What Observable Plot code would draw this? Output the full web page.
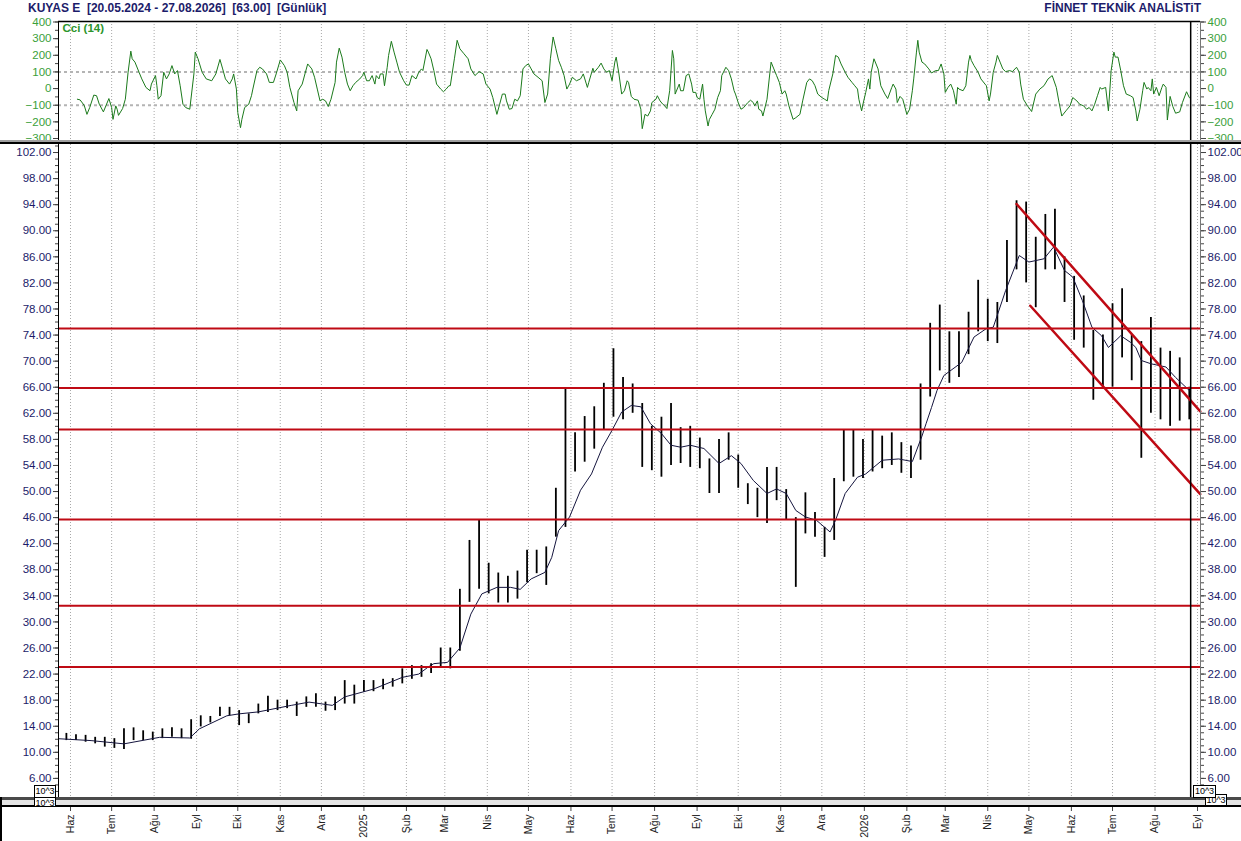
<!DOCTYPE html>
<html><head><meta charset="utf-8">
<script src="https://cdn.jsdelivr.net/npm/d3@7"></script>
<script src="https://cdn.jsdelivr.net/npm/@observablehq/plot@0.6"></script>
<style>
body{margin:0;background:#fff;font-family:"Liberation Sans",Arial,sans-serif;}
#root{position:relative;width:1241px;height:841px;overflow:hidden;background:#fff;}
.abs{position:absolute;}
.box{position:absolute;border:1px solid #000;background:#fff;font-size:9px;line-height:10px;text-align:center;color:#000;overflow:hidden;}
</style></head><body><div id="root"></div>
<script>
// ---------- DATA ----------
const titleLeft = "KUYAS E  [20.05.2024 - 27.08.2026]  [63.00]  [Günlük]";
const titleRight = "FİNNET TEKNİK ANALİSTiT";
const cciLabel = "Cci (14)";
const trMonths = ["Oca","Şub","Mar","Nis","May","Haz","Tem","Ağu","Eyl","Eki","Kas","Ara"];
const lastDay = "2026-08-27";

// weekly price ranges (week starting Monday)
const weeks = ["2024-05-20","2024-05-27","2024-06-03","2024-06-10","2024-06-17","2024-06-24","2024-07-01","2024-07-08","2024-07-15","2024-07-22","2024-07-29","2024-08-05","2024-08-12","2024-08-19","2024-08-26","2024-09-02","2024-09-09","2024-09-16","2024-09-23","2024-09-30","2024-10-07","2024-10-14","2024-10-21","2024-10-28","2024-11-04","2024-11-11","2024-11-18","2024-11-25","2024-12-02","2024-12-09","2024-12-16","2024-12-23","2024-12-30",
"2025-01-06","2025-01-13","2025-01-20","2025-01-27","2025-02-03","2025-02-10","2025-02-17","2025-02-24","2025-03-03","2025-03-10","2025-03-17","2025-03-24","2025-03-31","2025-04-07","2025-04-14","2025-04-21","2025-04-28","2025-05-05","2025-05-12","2025-05-19","2025-05-26","2025-06-02","2025-06-09","2025-06-16","2025-06-23","2025-06-30","2025-07-07","2025-07-14","2025-07-21","2025-07-28","2025-08-04","2025-08-11","2025-08-18","2025-08-25","2025-09-01","2025-09-08","2025-09-15","2025-09-22","2025-09-29","2025-10-06","2025-10-13","2025-10-20","2025-10-27","2025-11-03","2025-11-10","2025-11-17","2025-11-24","2025-12-01","2025-12-08","2025-12-15","2025-12-22","2025-12-29",
"2026-01-05","2026-01-12","2026-01-19","2026-01-26","2026-02-02","2026-02-09","2026-02-16","2026-02-23","2026-03-02","2026-03-09","2026-03-16","2026-03-23","2026-03-30","2026-04-06","2026-04-13","2026-04-20","2026-04-27","2026-05-04","2026-05-11","2026-05-18","2026-05-25","2026-06-01","2026-06-08","2026-06-15","2026-06-22","2026-06-29","2026-07-06","2026-07-13","2026-07-20","2026-07-27","2026-08-03","2026-08-10","2026-08-17","2026-08-24"];
const weekHigh = [12.8,12.9,12.7,12.6,12.3,12.3,12.1,13.6,13.75,13.3,13.1,13.6,13.75,13.6,15.0,15.6,15.5,16.9,16.9,16.4,15.9,17.4,18.6,18.0,18.0,17.7,18.5,19.0,17.7,18.5,21.0,20.3,21.0,
21.0,21.2,21.3,22.8,23.3,23.3,23.6,26.0,26.0,35.0,42.5,45.6,39.0,37.5,37.0,37.8,41.0,41.0,41.5,50.5,65.8,59.0,61.5,63.0,66.6,71.9,67.5,66.5,63.5,60.0,61.4,63.5,59.8,60.0,58.2,55.0,58.0,59.0,55.6,51.2,50.5,53.7,53.7,50.3,46.0,49.8,46.8,44.5,52.0,59.5,59.4,58.0,
59.4,58.5,59.0,57.5,57.0,66.5,75.8,78.6,74.5,74.5,77.5,82.4,79.5,79.0,88.5,94.6,94.4,89.0,92.5,93.3,86.0,83.0,80.0,74.7,74.0,78.8,81.1,74.0,73.0,76.7,72.0,71.5,70.5,66.0];
const weekLow = [11.9,11.8,11.8,11.55,11.3,10.8,10.6,10.45,11.8,11.8,11.8,12.1,12.3,12.1,12.0,13.9,14.5,15.5,15.6,14.1,14.4,15.9,16.1,16.4,16.7,15.5,16.9,16.9,16.3,16.4,17.4,17.4,19.2,
19.3,19.6,20.0,20.5,21.2,21.5,22.1,23.1,22.8,25.5,33.0,35.0,34.3,32.9,32.9,33.5,36.0,37.4,35.6,43.0,44.5,53.0,54.5,56.5,59.5,61.4,61.0,62.0,53.7,53.2,52.2,54.0,54.3,53.7,53.5,49.7,49.7,54.8,50.5,48.0,46.0,45.1,48.6,45.6,35.3,43.5,43.0,39.9,42.5,51.5,52.2,52.0,
53.0,53.5,54.0,52.8,52.0,54.8,64.5,68.5,66.6,67.5,71.0,74.5,73.0,72.7,79.0,84.0,82.0,78.2,84.0,84.0,79.0,73.2,72.0,64.0,66.0,66.0,70.5,67.0,55.1,62.0,61.0,60.0,60.8,61.0];

// moving average line
const maSeries = [["2024-05-22",12.1],["2024-06-16",11.8],["2024-07-10",11.3],["2024-08-05",12.3],["2024-08-27",12.2],["2024-09-03",13.6],["2024-09-23",15.6],["2024-10-02",15.9],["2024-10-16",16.2],["2024-11-09",17.2],["2024-11-22",17.7],["2024-12-09",17.2],["2024-12-18",18.5],["2025-01-08",19.7],["2025-01-29",21.5],["2025-02-10",22.0],["2025-02-17",23.1],["2025-02-21",23.6],["2025-03-03",23.8],["2025-03-12",26.0],["2025-03-20",31.2],["2025-03-28",34.3],["2025-04-08",35.3],["2025-04-18",35.3],["2025-04-25",35.0],["2025-05-03",36.6],["2025-05-13",37.6],["2025-05-18",39.9],["2025-05-23",44.0],["2025-05-31",46.1],["2025-06-08",50.2],["2025-06-16",52.7],["2025-06-24",56.8],["2025-07-01",59.4],["2025-07-08",62.2],["2025-07-15",63.2],["2025-07-22",63.0],["2025-07-29",60.4],["2025-08-06",58.9],["2025-08-13",57.1],["2025-08-20",56.8],["2025-08-27",57.1],["2025-09-06",56.6],["2025-09-17",54.3],["2025-09-26",55.5],["2025-10-03",54.3],["2025-10-12",51.7],["2025-10-22",49.7],["2025-10-29",50.4],["2025-11-05",49.7],["2025-11-12",47.1],["2025-11-19",46.1],["2025-11-27",45.6],["2025-12-07",43.8],["2025-12-11",45.6],["2025-12-18",49.7],["2025-12-27",52.2],["2026-01-02",52.7],["2026-01-14",54.8],["2026-01-26",55.0],["2026-02-05",54.6],["2026-02-12",58.5],["2026-02-15",60.4],["2026-02-19",62.9],["2026-02-23",65.5],["2026-02-28",67.8],["2026-03-13",69.8],["2026-03-22",73.7],["2026-03-31",75.0],["2026-04-05",75.2],["2026-04-14",80.8],["2026-04-24",86.2],["2026-05-01",85.2],["2026-05-12",85.7],["2026-05-19",87.5],["2026-05-27",83.9],["2026-06-02",82.9],["2026-06-09",79.3],["2026-06-16",75.2],["2026-06-23",73.9],["2026-06-28",72.1],["2026-07-07",73.9],["2026-07-14",72.9],["2026-07-18",72.1],["2026-07-22",70.1],["2026-07-29",69.6],["2026-08-09",69.1],["2026-08-16",67.5],["2026-08-26",65.5]];

// CCI(14)
const cciSeries = [["2024-06-06",-64],["2024-06-08",-68],["2024-06-11",-101],["2024-06-13",-155],["2024-06-15",-114],["2024-06-18",-39],["2024-06-20",-43],["2024-06-22",-94],["2024-06-25",-140],["2024-06-29",-60],["2024-07-01",-114],["2024-07-02",-185],["2024-07-04",-104],["2024-07-05",-124],["2024-07-06",-161],["2024-07-09",-120],["2024-07-11",-64],["2024-07-13",98],["2024-07-15",225],["2024-07-16",179],["2024-07-18",159],["2024-07-21",98],["2024-07-23",58],["2024-07-26",7],["2024-07-29",-13],["2024-07-30",27],["2024-08-02",78],["2024-08-03",17],["2024-08-04",-64],["2024-08-06",-43],["2024-08-08",98],["2024-08-10",58],["2024-08-12",88],["2024-08-14",138],["2024-08-16",88],["2024-08-18",108],["2024-08-20",17],["2024-08-22",-94],["2024-08-24",-114],["2024-08-27",-124],["2024-08-30",88],["2024-08-31",219],["2024-09-02",179],["2024-09-05",98],["2024-09-08",58],["2024-09-12",47],["2024-09-15",88],["2024-09-18",175],["2024-09-20",118],["2024-09-22",58],["2024-09-25",27],["2024-09-27",58],["2024-09-28",88],["2024-09-30",-3],["2024-10-01",-144],["2024-10-03",-235],["2024-10-04",-185],["2024-10-06",-114],["2024-10-09",-94],["2024-10-11",-43],["2024-10-12",-3],["2024-10-15",108],["2024-10-17",128],["2024-10-19",118],["2024-10-22",88],["2024-10-24",37],["2024-10-27",37],["2024-10-29",88],["2024-11-01",172],["2024-11-04",138],["2024-11-06",98],["2024-11-08",7],["2024-11-11",-84],["2024-11-13",-134],["2024-11-14",-13],["2024-11-17",27],["2024-11-19",88],["2024-11-21",148],["2024-11-24",118],["2024-11-26",68],["2024-11-28",-3],["2024-11-30",-74],["2024-12-02",-64],["2024-12-04",-74],["2024-12-06",-108],["2024-12-08",-64],["2024-12-11",37],["2024-12-12",159],["2024-12-14",243],["2024-12-16",189],["2024-12-18",98],["2024-12-20",27],["2024-12-22",-13],["2024-12-24",17],["2024-12-26",37],["2024-12-29",58],["2024-12-31",78],
["2025-01-01",98],["2025-01-03",47],["2025-01-05",47],["2025-01-07",78],["2025-01-09",27],["2025-01-10",78],["2025-01-12",58],["2025-01-13",88],["2025-01-15",88],["2025-01-16",17],["2025-01-18",128],["2025-01-19",199],["2025-01-21",284],["2025-01-23",219],["2025-01-25",159],["2025-01-27",98],["2025-01-30",47],["2025-02-01",21],["2025-02-03",21],["2025-02-05",78],["2025-02-08",58],["2025-02-10",98],["2025-02-12",118],["2025-02-13",108],["2025-02-16",235],["2025-02-17",219],["2025-02-19",179],["2025-02-21",108],["2025-02-23",27],["2025-02-26",-3],["2025-02-28",-19],["2025-03-02",-3],["2025-03-04",17],["2025-03-05",17],["2025-03-08",179],["2025-03-10",290],["2025-03-12",239],["2025-03-15",209],["2025-03-18",179],["2025-03-20",118],["2025-03-23",78],["2025-03-26",102],["2025-03-29",88],["2025-03-31",27],["2025-04-03",-3],["2025-04-05",-54],["2025-04-08",-155],["2025-04-10",-94],["2025-04-12",-33],["2025-04-14",-33],["2025-04-15",-74],["2025-04-17",-124],["2025-04-19",-120],["2025-04-21",-64],["2025-04-23",-74],["2025-04-25",-43],["2025-04-27",118],["2025-04-29",138],["2025-05-01",148],["2025-05-03",118],["2025-05-05",88],["2025-05-08",68],["2025-05-11",47],["2025-05-13",-84],["2025-05-15",-33],["2025-05-17",179],["2025-05-19",310],["2025-05-21",239],["2025-05-23",169],["2025-05-25",128],["2025-05-27",78],["2025-05-29",-3],["2025-05-31",27],["2025-06-02",68],["2025-06-05",47],["2025-06-08",58],["2025-06-10",88],["2025-06-13",7],["2025-06-14",37],["2025-06-17",122],["2025-06-18",98],["2025-06-21",128],["2025-06-23",153],["2025-06-25",118],["2025-06-27",98],["2025-06-29",108],["2025-07-01",47],["2025-07-03",159],["2025-07-04",189],["2025-07-06",88],["2025-07-08",-33],["2025-07-10",-13],["2025-07-12",47],["2025-07-13",37],["2025-07-15",-47],["2025-07-17",-64],["2025-07-20",-70],["2025-07-22",-124],["2025-07-23",-241],["2025-07-25",-155],["2025-07-27",-165],["2025-07-29",-134],["2025-07-30",-84],["2025-08-02",-64],["2025-08-03",-43],["2025-08-05",-74],["2025-08-07",-94],["2025-08-08",-100],["2025-08-10",-120],["2025-08-12",-13],["2025-08-14",229],["2025-08-15",179],["2025-08-16",-33],["2025-08-19",27],["2025-08-20",-13],["2025-08-22",-13],["2025-08-24",78],["2025-08-26",88],["2025-08-28",27],["2025-08-29",-23],["2025-08-31",-23],["2025-09-01",-54],["2025-09-03",-64],["2025-09-05",27],["2025-09-06",-64],["2025-09-07",-134],["2025-09-09",-225],["2025-09-10",-185],["2025-09-12",-155],["2025-09-14",-124],["2025-09-16",-54],["2025-09-18",-13],["2025-09-19",78],["2025-09-22",128],["2025-09-24",108],["2025-09-26",58],["2025-09-28",-13],["2025-09-29",-33],["2025-10-01",-84],["2025-10-03",-124],["2025-10-05",-114],["2025-10-08",-84],["2025-10-10",-70],["2025-10-12",-84],["2025-10-13",-104],["2025-10-15",-74],["2025-10-16",-124],["2025-10-18",-134],["2025-10-19",-165],["2025-10-22",-64],["2025-10-24",88],["2025-10-25",159],["2025-10-27",118],["2025-10-29",78],["2025-10-31",37],["2025-11-02",-33],["2025-11-04",-13],["2025-11-05",-33],["2025-11-07",-104],["2025-11-10",-185],["2025-11-12",-175],["2025-11-15",-155],["2025-11-17",-74],["2025-11-20",37],["2025-11-22",58],["2025-11-24",47],["2025-11-26",17],["2025-11-28",-33],["2025-12-01",-54],["2025-12-03",-64],["2025-12-05",-74],["2025-12-06",-13],["2025-12-09",88],["2025-12-11",199],["2025-12-13",189],["2025-12-15",148],["2025-12-18",98],["2025-12-20",68],["2025-12-23",37],["2025-12-25",17],["2025-12-27",-3],["2025-12-28",-64],["2025-12-30",-134],["2025-12-31",-94],
["2026-01-02",-23],["2026-01-04",58],["2026-01-05",-3],["2026-01-06",98],["2026-01-08",179],["2026-01-11",118],["2026-01-13",17],["2026-01-16",-33],["2026-01-18",-60],["2026-01-21",7],["2026-01-22",27],["2026-01-24",-3],["2026-01-25",-84],["2026-01-27",-47],["2026-01-29",-64],["2026-01-30",-94],["2026-02-01",-155],["2026-02-03",-124],["2026-02-05",-13],["2026-02-06",58],["2026-02-08",219],["2026-02-09",290],["2026-02-10",219],["2026-02-12",159],["2026-02-14",148],["2026-02-17",118],["2026-02-19",94],["2026-02-22",108],["2026-02-24",108],["2026-02-26",148],["2026-02-28",88],["2026-03-01",-23],["2026-03-03",7],["2026-03-05",27],["2026-03-07",-13],["2026-03-09",-94],["2026-03-10",7],["2026-03-11",-3],["2026-03-14",-13],["2026-03-16",17],["2026-03-18",159],["2026-03-19",199],["2026-03-20",169],["2026-03-22",138],["2026-03-25",98],["2026-03-27",58],["2026-03-30",27],["2026-03-31",17],["2026-04-02",-74],["2026-04-03",-33],["2026-04-05",98],["2026-04-07",159],["2026-04-08",199],["2026-04-10",159],["2026-04-12",118],["2026-04-14",102],["2026-04-17",108],["2026-04-19",102],["2026-04-22",128],["2026-04-24",98],["2026-04-25",27],["2026-04-27",-64],["2026-04-30",-104],["2026-05-03",-138],["2026-05-06",-33],["2026-05-09",-3],["2026-05-12",17],["2026-05-15",58],["2026-05-18",78],["2026-05-21",7],["2026-05-23",-84],["2026-05-25",-165],["2026-05-28",-134],["2026-05-31",-104],["2026-06-02",-54],["2026-06-05",-74],["2026-06-07",-94],["2026-06-10",-104],["2026-06-12",-124],["2026-06-14",-114],["2026-06-16",-134],["2026-06-18",-94],["2026-06-20",-43],["2026-06-22",7],["2026-06-23",-3],["2026-06-26",7],["2026-06-28",-134],["2026-06-30",108],["2026-07-02",219],["2026-07-03",189],["2026-07-05",189],["2026-07-07",108],["2026-07-09",17],["2026-07-11",-33],["2026-07-14",-43],["2026-07-16",-54],["2026-07-18",-134],["2026-07-19",-195],["2026-07-21",-124],["2026-07-23",-13],["2026-07-24",37],["2026-07-26",-3],["2026-07-27",7],["2026-07-29",-13],["2026-07-30",58],["2026-07-31",-33],["2026-08-02",7],["2026-08-04",-43],["2026-08-06",7],["2026-08-07",27],["2026-08-09",7],["2026-08-10",-189],["2026-08-12",-47],["2026-08-14",-108],["2026-08-16",-148],["2026-08-19",-140],["2026-08-21",-84],["2026-08-24",-19],["2026-08-26",-54],["2026-08-27",-60]];

// support / resistance levels and falling channel
const levels = [75.0, 65.9, 59.5, 45.7, 32.5, 23.1];
const channelUpper = [["2026-04-22",94.1],["2026-09-03",62.3]];
const channelLower = [["2026-05-02",78.5],["2026-09-03",49.6]];
const cciRefLines = [100, -100];
const cciTicks = [-300,-200,-100,0,100,200,300,400];
const priceTicks = d3.range(6, 103, 4);

// ---------- RENDER ----------
const root = document.getElementById("root");
const parse = d3.utcParse("%Y-%m-%d");
const DAY = 864e5;
const W = 1241;
const FONT = "Liberation Sans, Arial, sans-serif";
const RED = "#bf0a14";
const NAVY = "#1c1c6a";
const GREEN_TXT = "#3aa03a";
const xDomain = [new Date(Date.UTC(2024,4,23,6)), new Date(Date.UTC(2026,8,3,4))];
const monthTicks = d3.utcMonth.range(new Date(Date.UTC(2024,5,1)), new Date(Date.UTC(2026,8,2)));
const monthLabel = d => d.getUTCMonth() === 0 ? String(d.getUTCFullYear()) : trMonths[d.getUTCMonth()];
const last = parse(lastDay);

const bars = weeks.map((w,i) => ({date: new Date(+parse(w) + 2*DAY), high: weekHigh[i], low: weekLow[i]}));
const ma = maSeries.map(([d,v]) => ({date: parse(d), v}));
const cci = cciSeries.map(([d,v]) => ({date: parse(d), v}));
const channel = [
  ...channelUpper.map(([d,v]) => ({date: parse(d), v, k: "u"})),
  ...channelLower.map(([d,v]) => ({date: parse(d), v, k: "l"}))
];

function place(el, top) {
  el.style.position = "absolute";
  el.style.left = "0px";
  el.style.top = top + "px";
  root.appendChild(el);
}
const baseStyle = {fontFamily: FONT, background: "transparent", overflow: "visible"};
const minorAxis = (ticks, anchor) => Plot.axisY(ticks, {anchor, tickSize: 3, stroke: "#444", fill: "none", label: null});
const majorAxis = (ticks, anchor, fill, fmt) => Plot.axisY(ticks, {anchor, tickSize: 5, tickPadding: 2, fontSize: 11.5, tickFormat: fmt, stroke: "#444", fill, label: null});

// CCI panel
const cciDomain = [-324, 403];
const cciPlot = Plot.plot({
  width: W, height: 128, marginLeft: 58, marginRight: 41, marginTop: 7, marginBottom: 0,
  x: {type: "utc", domain: xDomain, axis: null},
  y: {domain: cciDomain, axis: null},
  style: baseStyle,
  marks: [
    Plot.ruleX(monthTicks, {stroke: "#a8a8a8", strokeDasharray: "1,2"}),
    Plot.ruleY(cciRefLines, {stroke: "#b4b4b4", strokeWidth: 2, strokeDasharray: "3,3"}),
    Plot.line(cci, {x: "date", y: "v", stroke: "#1b7a1b", strokeWidth: 1, clip: true}),
    Plot.ruleX([last], {stroke: "#000", strokeWidth: 1.5}),
    Plot.ruleX([xDomain[0]], {stroke: "#000"}),
    Plot.ruleX([xDomain[1]], {stroke: "#777"}),
    Plot.ruleY([cciDomain[1]], {stroke: "#000", strokeWidth: 1.5}),
    minorAxis(d3.range(-300, 401, 50), "left"),
    minorAxis(d3.range(-300, 401, 50), "right"),
    majorAxis(cciTicks, "left", GREEN_TXT, d3.format("d")),
    majorAxis(cciTicks, "right", GREEN_TXT, d3.format("d")),
    Plot.text([cciLabel], {frameAnchor: "top-left", dx: 4, dy: 2, fontSize: 11.5, fontWeight: "bold", fill: "#2c952c"})
  ]
});
place(cciPlot, 14);

// Price panel
const priceDomain = [3.07, 103.23];
const pricePlot = Plot.plot({
  width: W, height: 653, marginLeft: 58, marginRight: 41, marginTop: 0, marginBottom: 0,
  x: {type: "utc", domain: xDomain, axis: null},
  y: {domain: priceDomain, axis: null},
  style: baseStyle,
  marks: [
    Plot.ruleX(monthTicks, {stroke: "#a8a8a8", strokeDasharray: "1,2"}),
    Plot.ruleX(bars, {x: "date", y1: "low", y2: "high", stroke: "#000", strokeWidth: 1.8, clip: true}),
    Plot.line(ma, {x: "date", y: "v", stroke: "#15153e", strokeWidth: 1, clip: true}),
    Plot.ruleY(levels, {stroke: RED, strokeWidth: 2}),
    Plot.line(channel, {x: "date", y: "v", z: "k", stroke: RED, strokeWidth: 2.5}),
    Plot.ruleX([last], {stroke: "#000", strokeWidth: 1.5}),
    Plot.ruleX([xDomain[0]], {stroke: "#000"}),
    Plot.ruleX([xDomain[1]], {stroke: "#777"}),
    minorAxis(d3.range(4, 104, 1), "left"),
    minorAxis(d3.range(4, 104, 1), "right"),
    majorAxis(priceTicks, "left", NAVY, d3.format(".2f")),
    majorAxis(priceTicks, "right", NAVY, d3.format(".2f"))
  ]
});
place(pricePlot, 144);

// X axis (months)
const axisPlot = Plot.plot({
  width: W, height: 44, marginLeft: 58, marginRight: 41, marginTop: 0, marginBottom: 35,
  x: {type: "utc", domain: xDomain, axis: null},
  style: baseStyle,
  marks: [
    Plot.axisX(monthTicks, {anchor: "bottom", tickSize: 5, tickPadding: 3, tickRotate: -90, fontSize: 10.5, tickFormat: monthLabel, stroke: "#444", fill: "#222", label: null})
  ]
});
place(axisPlot, 797);

// titles
function div(cls, css, text) {
  const d = document.createElement("div");
  d.className = cls;
  Object.assign(d.style, css);
  if (text != null) d.textContent = text;
  root.appendChild(d);
  return d;
}
div("abs", {left: "28px", top: "1px", fontSize: "12px", fontWeight: "bold", color: NAVY, whiteSpace: "pre", lineHeight: "15px"}, titleLeft);
div("abs", {right: "40px", top: "1px", fontSize: "12px", fontWeight: "bold", color: NAVY, whiteSpace: "pre", lineHeight: "15px"}, titleRight);

// panel separators
div("abs", {left: "0px", top: "139.5px", width: W + "px", height: "2.5px", background: "#a0a0a0"});
div("abs", {left: "0px", top: "142px", width: W + "px", height: "2px", background: "#000"});
div("abs", {left: "0px", top: "797px", width: W + "px", height: "3px", background: "#4a4a4a"});
div("abs", {left: "0px", top: "800px", width: W + "px", height: "5px", background: "#e4e4e4"});
div("abs", {left: "0px", top: "805px", width: W + "px", height: "1.5px", background: "#000"});
div("abs", {left: "0px", top: "797px", width: "2px", height: "44px", background: "#000"});

// 10^3 boxes
div("box", {left: "34px", top: "797px", width: "20px", height: "8px"}, "10^3");
div("box", {left: "34px", top: "785px", width: "20px", height: "11px"}, "10^3");
div("box", {left: "1205px", top: "794px", width: "20px", height: "10px"}, "10^3");
div("box", {left: "1193px", top: "785px", width: "21px", height: "11px"}, "10^3");
</script></body></html>
